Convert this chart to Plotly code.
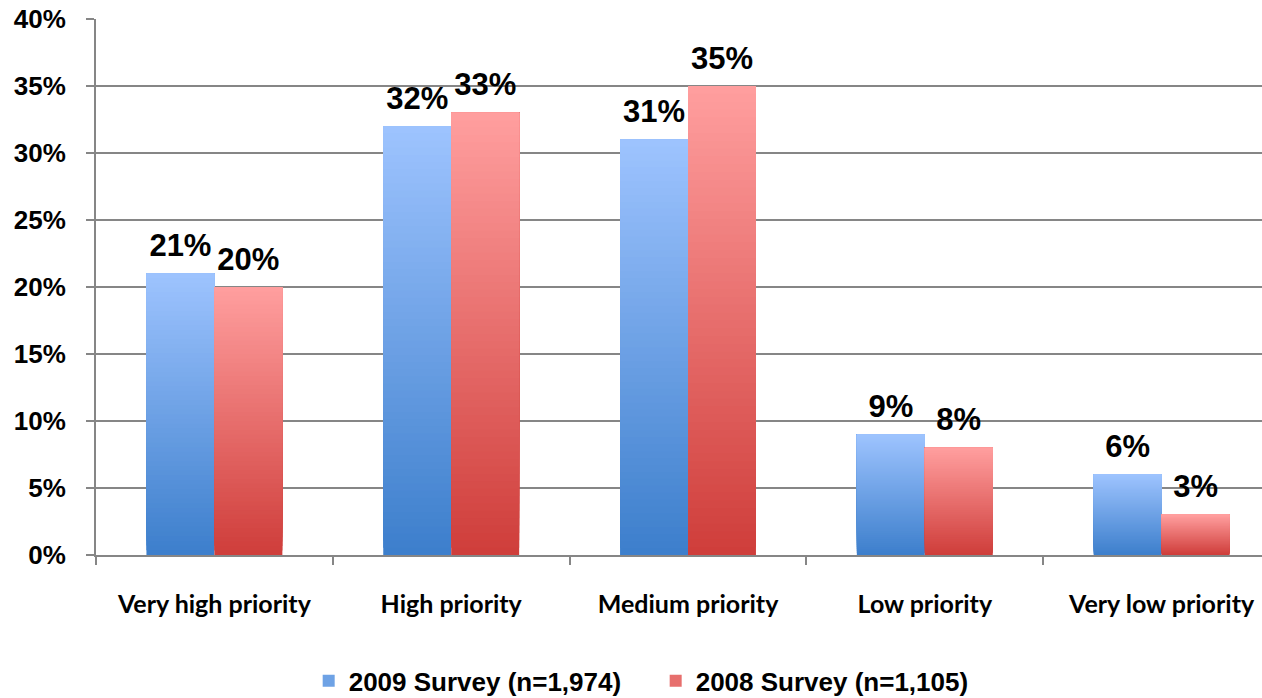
import plotly.graph_objects as go

categories = ["Very high priority", "High priority", "Medium priority", "Low priority", "Very low priority"]
survey_2009 = [21, 32, 31, 9, 6]
survey_2008 = [20, 33, 35, 8, 3]
series_names = ["2009 Survey (n=1,974)", "2008 Survey (n=1,105)"]
y_ticks = [0, 5, 10, 15, 20, 25, 30, 35, 40]

# gradient endpoints (bottom -> top)
blue_grad = ((0x3D, 0x7F, 0xCC), (0x9D, 0xC3, 0xFE))
red_grad = ((0xCF, 0x3E, 0x3B), (0xFF, 0x9E, 0x9E))

K = 60


def lerp(c0, c1, t):
    return "rgb(%d,%d,%d)" % tuple(round(a + (b - a) * t) for a, b in zip(c0, c1))


fig = go.Figure()
for name, vals, grad, grp in [
    (series_names[0], survey_2009, blue_grad, "a"),
    (series_names[1], survey_2008, red_grad, "b"),
]:
    for k in range(K):
        t = k / (K - 1)
        base = [v * k / K for v in vals]
        height = [v - b for v, b in zip(vals, base)]
        fig.add_trace(go.Bar(
            x=categories, y=height, base=base,
            offsetgroup=grp,
            marker=dict(color=lerp(grad[0], grad[1], t), line=dict(width=0)),
            name=name,
            showlegend=(k == K // 2),
            legendgroup=grp,
            hoverinfo="skip",
        ))
    # data labels
    fig.add_trace(go.Scatter(
        x=categories, y=vals, offsetgroup=grp,
        mode="markers+text",
        marker=dict(size=14, color="rgba(0,0,0,0)"),
        text=[f"{v}%" for v in vals], textposition="top center",
        textfont=dict(family="Liberation Sans, Arial", size=31, color="black", weight="bold"),
        showlegend=False, hoverinfo="skip", cliponaxis=False,
    ))

fig.update_layout(
    width=1262, height=698,
    paper_bgcolor="white", plot_bgcolor="white",
    margin=dict(l=96, r=0, t=19, b=143, autoexpand=False),
    barmode="group", bargap=0.426, bargroupgap=0,
    scattermode="group", scattergap=0.426,
    showlegend=True,
    legend=dict(
        orientation="h", x=0.480, xanchor="center",
        yref="container", y=0.0244, yanchor="middle",
        font=dict(family="Liberation Sans, Arial", size=26, color="black", weight="bold"),
        itemwidth=30, tracegroupgap=0, entrywidth=302, entrywidthmode="pixels",
    ),
    xaxis=dict(
        type="category", range=[-0.5, 4.424], automargin=False,
        showline=True, linecolor="#868686", linewidth=2,
        ticks="outside", ticklen=8, tickcolor="#868686", tickwidth=2,
        tickson="boundaries", ticklabelstandoff=26,
        tickfont=dict(family="Lato, Carlito, Calibri", size=25, color="black", weight="bold"),
        showgrid=False,
    ),
    yaxis=dict(
        range=[0, 40], tickvals=y_ticks, ticktext=[f"{v}%" for v in y_ticks],
        automargin=False,
        showline=True, linecolor="#868686", linewidth=2,
        ticks="outside", ticklen=8, tickcolor="#868686", tickwidth=2,
        showgrid=True, gridcolor="#868686", gridwidth=2,
        zeroline=False, ticklabelstandoff=15, ticklabeloverflow="allow",
        tickfont=dict(family="Liberation Sans, Arial", size=26, color="black", weight="bold"),
    ),
)

fig.write_html("out.html", config={"displayModeBar": False},
               post_script="document.body.style.margin='0';")
